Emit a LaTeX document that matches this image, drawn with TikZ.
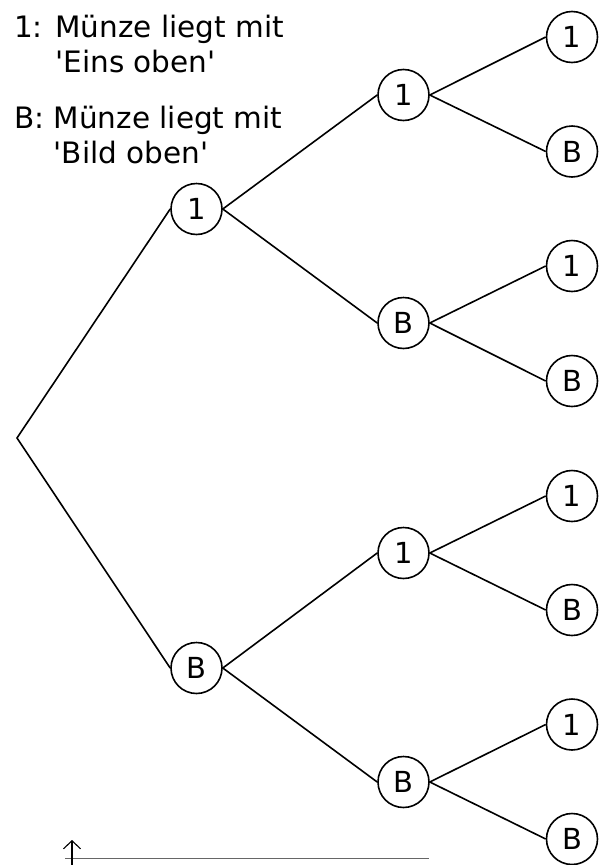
\documentclass[tikz,border=0pt]{standalone}
\usepackage{fontspec}
\setmainfont{DejaVu Sans}[Ligatures=TeXOff]
\usetikzlibrary{positioning,arrows.meta}

\tikzset{
    coin/.style={draw,circle,line width=1.6pt,minimum size=51pt,inner sep=0pt,font=\fontsize{29}{34}\selectfont},
    branch/.style={line width=1.6pt},
    legend/.style={anchor=base west,inner sep=0pt,align=left,font=\fontsize{29.5}{35}\selectfont}
}

\begin{document}
\begin{tikzpicture}[x=1pt,y=-1pt]
    \useasboundingbox (0,0) rectangle (605,865);

    % legend
    \node[legend] (leg1) at (14,72) {1: Münze liegt mit\\\hphantom{1: }'Eins oben'};
    \node[legend] (legB) at (14,163) {B: Münze liegt mit\\\hphantom{B: }'Bild oben'};

    % tree
    \coordinate (root) at (17,438);
    \node[coin] (a1) at (196.5,209) {1};
    \node[coin] (aB) at (196.5,668) {B};
    \node[coin] (a11) at (403.5,95) {1};
    \node[coin] (a1B) at (403.5,323) {B};
    \node[coin] (aB1) at (403.5,553) {1};
    \node[coin] (aBB) at (403.5,782) {B};
    \node[coin] (a111) at (572,37) {1};
    \node[coin] (a11B) at (572,151.5) {B};
    \node[coin] (a1B1) at (572,266) {1};
    \node[coin] (a1BB) at (572,381) {B};
    \node[coin] (aB11) at (572,496) {1};
    \node[coin] (aB1B) at (572,610) {B};
    \node[coin] (aBB1) at (572,724.5) {1};
    \node[coin] (aBBB) at (572,839) {B};

    \draw[branch] (a1.west) -- (root) -- (aB.west);
    \draw[branch] (a11.west) -- (a1.east) -- (a1B.west);
    \draw[branch] (aB1.west) -- (aB.east) -- (aBB.west);
    \draw[branch] (a111.west) -- (a11.east) -- (a11B.west);
    \draw[branch] (a1B1.west) -- (a1B.east) -- (a1BB.west);
    \draw[branch] (aB11.west) -- (aB1.east) -- (aB1B.west);
    \draw[branch] (aBB1.west) -- (aBB.east) -- (aBBB.west);

    % axis at the bottom
    \coordinate (axl) at (65,858.5);
    \coordinate (axr) at (429,858.5);
    \coordinate (arrlow) at (72,865);
    \coordinate (arrtop) at (72,840);
    \draw[gray!80!black,line width=1pt] (axl) -- (axr);
    \draw[line width=1.1pt,-{Straight Barb[length=8pt,width=17pt]}] (arrlow) -- (arrtop);
\end{tikzpicture}
\end{document}
